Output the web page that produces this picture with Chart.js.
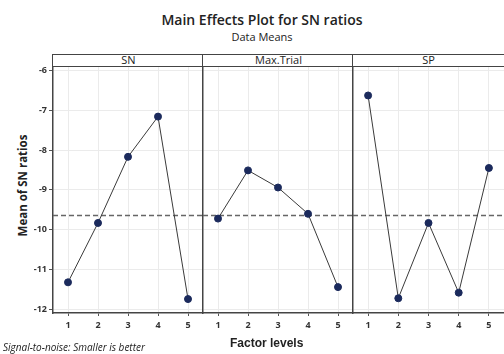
<!DOCTYPE html>
<html>
<head>
<meta charset="utf-8">
<script src="https://cdn.jsdelivr.net/npm/chart.js@4"></script>
<style>
  body { margin: 0; background: #fff; }
  #wrap { position: relative; width: 504px; height: 354px; overflow: hidden; font-family: "Open Sans", sans-serif; color: #222; }
  #wrap canvas { position: absolute; top: 67px; }
  .title { position: absolute; left: 0; width: 524px; text-align: center; }
  .hdr { position: absolute; top: 54px; height: 13px; box-sizing: border-box; border-top: 1.5px solid #444; border-bottom: 1.5px solid #444; border-left: 1.5px solid #444; font-size: 11px; line-height: 10px; text-align: center; }
</style>
</head>
<body>
<div id="wrap">
  <div class="title" style="top:10px;font-size:14px;font-weight:600;">Main Effects Plot for SN ratios</div>
  <div class="title" style="top:29px;font-size:11px;">Data Means</div>

  <div class="hdr" style="left:52px;width:152px;">SN</div>
  <div class="hdr" style="left:202px;width:152px;">Max.Trial</div>
  <div class="hdr" style="left:352px;width:160px;padding-right:8px;">SP</div>

  <div style="position:absolute;left:-30px;top:178px;width:104px;text-align:center;transform:rotate(-90deg);font-size:11.5px;font-weight:700;">Mean of SN ratios</div>

  <canvas id="c1" width="203" height="270" style="left:0px;"></canvas>
  <canvas id="c2" width="152" height="270" style="left:201px;"></canvas>
  <canvas id="c3" width="153" height="270" style="left:351px;"></canvas>

  <div style="position:absolute;left:230px;top:336px;font-family:'Liberation Sans',Arial,sans-serif;font-size:12px;font-weight:700;">Factor levels</div>
  <div style="position:absolute;left:3px;top:340px;font-size:10px;font-style:italic;">Signal-to-noise: Smaller is better</div>
</div>

<script>
const levels = [1, 2, 3, 4, 5];
const factorNames = ["SN", "Max.Trial", "SP"];
const snMeans = [-11.32, -9.83, -8.17, -7.16, -11.74];
const maxTrialMeans = [-9.72, -8.51, -8.94, -9.60, -11.44];
const spMeans = [-6.63, -11.72, -9.83, -11.58, -8.45];
const grandMean = -9.64;

const xMin = 0.5, xMax = 5.5;
const yMin = -12.09, yMax = -5.915;

function makeChart(id, values, showY) {
  const pts = levels.map((l, i) => ({ x: l, y: values[i] }));
  return new Chart(document.getElementById(id), {
    type: "line",
    data: {
      datasets: [
        {
          data: pts,
          borderColor: "#3a3a3a",
          borderWidth: 1,
          pointRadius: 3.5,
          pointBackgroundColor: "#1b2a5c",
          pointBorderColor: "#1b2a5c",
          tension: 0,
        },
        {
          // reference line at the grand mean
          data: [{ x: xMin, y: grandMean }, { x: xMax, y: grandMean }],
          borderColor: "#666",
          borderWidth: 1.5,
          borderDash: [5, 3],
          pointRadius: 0,
        },
      ],
    },
    options: {
      responsive: false,
      animation: false,
      layout: { padding: 0, autoPadding: false },
      plugins: { legend: { display: false }, tooltip: { enabled: false } },
      scales: {
        x: {
          type: "linear",
          min: xMin,
          max: xMax,
          afterBuildTicks: (s) => { s.ticks = levels.map((v) => ({ value: v })); },
          ticks: { color: "#333", padding: 4, font: { family: "Open Sans", size: 9, weight: "bold" } },
          grid: { color: "#ebebeb", tickColor: "#555", tickLength: 3 },
          border: { color: "#444", width: 1.5 },
          afterFit: (s) => { s.height = 24; s.paddingLeft = 0; s.paddingRight = 0; },
        },
        y: {
          min: yMin,
          max: yMax,
          ticks: { display: showY, stepSize: 1, includeBounds: false, color: "#333", padding: 2, font: { family: "Open Sans", size: 9, weight: "bold" } },
          grid: { color: "#ebebeb", tickColor: "#555", tickLength: 4, drawTicks: showY },
          border: { color: "#444", width: 1.5 },
          afterFit: (s) => { s.width = showY ? 53 : 2; s.paddingTop = 0; s.paddingBottom = 0; },
        },
      },
    },
  });
}

makeChart("c1", snMeans, true);
makeChart("c2", maxTrialMeans, false);
makeChart("c3", spMeans, false);
</script>
</body>
</html>
